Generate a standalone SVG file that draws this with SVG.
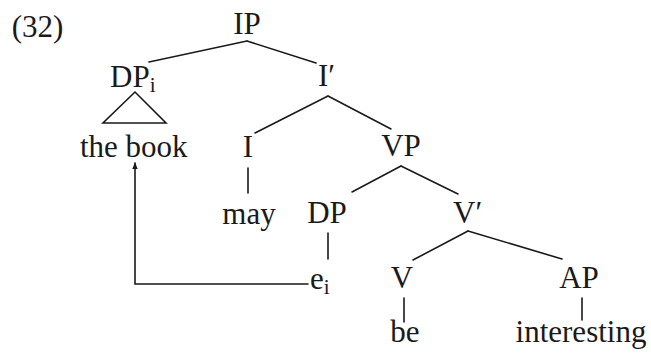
<svg xmlns="http://www.w3.org/2000/svg" width="651" height="354" viewBox="0 0 651 354">
<style>
text{font-family:"Liberation Serif","Times New Roman",serif;font-size:31px;fill:#1a1a1a}
.sub{font-size:21px}
.e{stroke:#1a1a1a;stroke-width:1.6;fill:none;stroke-linecap:round}
</style>
<defs>
<marker id="ah" viewBox="0 0 10 10" refX="9" refY="5" markerWidth="7" markerHeight="7" orient="auto" markerUnits="userSpaceOnUse">
<path d="M0,1 L10,5 L0,9 Z" fill="#1a1a1a"/>
</marker>
</defs>
<rect width="651" height="354" fill="#fff"/>
<text id="label" x="37.5" y="37" text-anchor="middle">(32)</text>
<g id="connectors">
<line class="e" x1="247" y1="41" x2="149" y2="62"/>
<line class="e" x1="247" y1="41" x2="316" y2="63"/>
<polygon class="e" points="135,92 103,123 166,123"/>
<line class="e" x1="328" y1="96" x2="255" y2="133"/>
<line class="e" x1="328" y1="96" x2="391" y2="129"/>
<line class="e" x1="248" y1="168" x2="248" y2="193"/>
<line class="e" x1="401" y1="166" x2="352" y2="192"/>
<line class="e" x1="401" y1="166" x2="458" y2="194"/>
<line class="e" x1="328" y1="233" x2="328" y2="259"/>
<line class="e" x1="468" y1="231" x2="413" y2="260"/>
<line class="e" x1="468" y1="231" x2="562" y2="259"/>
<line class="e" x1="404" y1="298" x2="404" y2="322"/>
<line class="e" x1="582" y1="298" x2="582" y2="320"/>
<polyline class="e" points="308,284 135,284 135,163" marker-end="url(#ah)"/>
</g>
<g id="n-IP"><text x="247" y="34" text-anchor="middle">IP</text></g>
<g id="n-DPi"><text x="110" y="87">DP<tspan class="sub" dy="5">i</tspan></text></g>
<g id="n-thebook"><text x="80" y="157">the book</text></g>
<g id="n-Ibar"><text x="318" y="86">I′</text></g>
<g id="n-I"><text x="248" y="157" text-anchor="middle">I</text></g>
<g id="n-VP"><text x="401" y="156" text-anchor="middle">VP</text></g>
<g id="n-may"><text x="249" y="224" text-anchor="middle">may</text></g>
<g id="n-DP"><text x="327" y="223" text-anchor="middle">DP</text></g>
<g id="n-Vbar"><text x="453" y="223">V′</text></g>
<g id="n-ei"><text x="310" y="289">e<tspan class="sub" dy="5">i</tspan></text></g>
<g id="n-V"><text x="402" y="288" text-anchor="middle">V</text></g>
<g id="n-AP"><text x="579" y="288" text-anchor="middle">AP</text></g>
<g id="n-be"><text x="405" y="342" text-anchor="middle">be</text></g>
<g id="n-interesting"><text x="581" y="342" text-anchor="middle">interesting</text></g>
</svg>
